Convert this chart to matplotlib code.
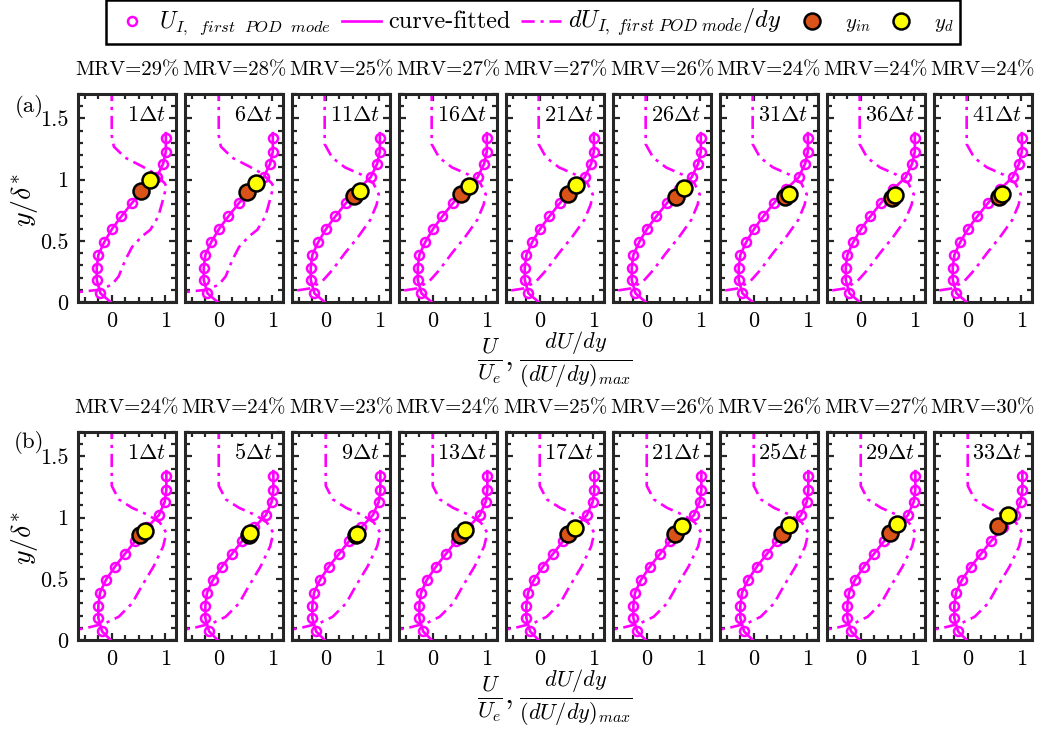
import numpy as np
import matplotlib
matplotlib.use('Agg')
from matplotlib import pyplot as plt
from matplotlib.lines import Line2D
from matplotlib.ticker import MultipleLocator

plt.rcParams['font.family'] = 'serif'
plt.rcParams['font.serif'] = ['cmr10', 'DejaVu Serif']
plt.rcParams['mathtext.fontset'] = 'cm'
plt.rcParams['axes.formatter.use_mathtext'] = True

# time steps and MRV per panel
steps_a = [1, 6, 11, 16, 21, 26, 31, 36, 41]
steps_b = [1, 5, 9, 13, 17, 21, 25, 29, 33]
mrv_a = [29, 28, 25, 27, 27, 26, 24, 24, 24]
mrv_b = [24, 24, 23, 24, 25, 26, 26, 27, 30]

# first POD mode velocity profile (U/Ue vs y/delta*)
U_y = [0.07, 0.18, 0.28, 0.385, 0.49, 0.60, 0.70, 0.81, 0.92, 1.02, 1.13, 1.23, 1.34]
U_a = [-0.21, -0.28, -0.28, -0.25, -0.14, 0.01, 0.18, 0.38, 0.60, 0.84, 0.96, 1.01, 1.01]
U_b = [-0.18, -0.25, -0.25, -0.22, -0.11, 0.06, 0.24, 0.44, 0.66, 0.88, 0.99, 1.02, 1.02]

# curve-fitted profile
fit_y = [0.0, 0.07, 0.18, 0.28, 0.385, 0.49, 0.60, 0.70, 0.81, 0.92, 1.02, 1.13, 1.23, 1.34, 1.38]
fit_a = [-0.02, -0.21, -0.28, -0.28, -0.25, -0.14, 0.01, 0.18, 0.38, 0.60, 0.84, 0.96, 1.01, 1.01, 1.01]
fit_b = [-0.02, -0.18, -0.25, -0.25, -0.22, -0.11, 0.06, 0.24, 0.44, 0.66, 0.88, 0.99, 1.02, 1.02, 1.02]

# normalised gradient dU/dy
dU_wavy_x = [0.0, 0.0, 0.04, 0.25, 0.56, 0.81, 0.99, 1.02, 0.96, 0.87, 0.72, 0.56, 0.38, 0.25, 0.13, 0.0, -0.24, -0.75]
dU_wavy_y = [1.75, 1.36, 1.27, 1.18, 1.11, 1.05, 0.97, 0.945, 0.84, 0.70, 0.59, 0.535, 0.45, 0.34, 0.21, 0.14, 0.10, 0.075]
dU_a_x = [-0.02, -0.02, 0.12, 0.36, 0.67, 0.89, 0.99, 0.95, 0.83, 0.61, 0.36, 0.12, -0.07, -0.31, -0.75]
dU_a_y = [1.75, 1.29, 1.18, 1.10, 1.04, 0.97, 0.88, 0.795, 0.67, 0.535, 0.40, 0.26, 0.167, 0.11, 0.08]
dU_b_x = [0.0, 0.0, 0.13, 0.38, 0.69, 0.90, 1.02, 0.96, 0.78, 0.56, 0.38, 0.13, -0.12, -0.49, -0.75]
dU_b_y = [1.75, 1.26, 1.15, 1.08, 1.02, 0.96, 0.875, 0.765, 0.60, 0.44, 0.30, 0.19, 0.137, 0.096, 0.08]

# y_in and y_d markers
yin_a_x = [0.55, 0.52, 0.53, 0.53, 0.52, 0.54, 0.585, 0.585, 0.58]
yin_a_y = [0.91, 0.90, 0.87, 0.885, 0.88, 0.86, 0.855, 0.85, 0.855]
yd_a_x = [0.72, 0.70, 0.64, 0.68, 0.68, 0.69, 0.65, 0.635, 0.64]
yd_a_y = [1.0, 0.97, 0.905, 0.95, 0.96, 0.93, 0.88, 0.877, 0.88]
yin_b_x = [0.53, 0.56, 0.57, 0.51, 0.52, 0.53, 0.53, 0.54, 0.56]
yin_b_y = [0.86, 0.86, 0.86, 0.86, 0.866, 0.866, 0.866, 0.875, 0.93]
yd_b_x = [0.62, 0.59, 0.58, 0.60, 0.65, 0.66, 0.66, 0.68, 0.75]
yd_b_y = [0.89, 0.875, 0.865, 0.90, 0.917, 0.93, 0.937, 0.946, 1.025]

MAG = '#FF00FF'
ORANGE = '#D95319'
YELLOW = '#FFFF00'
AXC = '#262626'
DASHDOT = (5, 2.2, 1.2, 2.2)

W, H = 1045, 731
fig = plt.figure(figsize=(W / 100, H / 100), dpi=100)


def draw_row(top_px, steps, mrv, U, fit, dUs, yin_x, yin_y, yd_x, yd_y):
	for i in range(9):
		left = 78 + 107 * i
		ax = fig.add_axes([left / W, 1 - (top_px + 208) / H, 98 / W, 208 / H])
		dx, dy = dUs[i]
		ax.plot(dx, dy, color=MAG, ls='-.', dashes=DASHDOT, lw=1.9, zorder=2)
		ax.plot(fit, fit_y, color=MAG, lw=1.9, zorder=3)
		ax.plot(U, U_y, ls='none', marker='o', mfc='none', mec=MAG, ms=6.5, mew=1.8, zorder=3)
		ax.plot(yin_x[i], yin_y[i], 'o', mfc=ORANGE, mec='k', ms=11.5, mew=1.8, zorder=5)
		ax.plot(yd_x[i], yd_y[i], 'o', mfc=YELLOW, mec='k', ms=11.5, mew=1.8, zorder=6)
		ax.set_xlim(-0.63, 1.2)
		ax.set_ylim(0, 1.7)
		ax.set_xticks([0, 1])
		ax.set_xticklabels(['0', '1'])
		ax.xaxis.set_minor_locator(MultipleLocator(0.25))
		ax.set_yticks([0, 0.5, 1, 1.5])
		ax.yaxis.set_minor_locator(MultipleLocator(0.1))
		ax.tick_params(which='both', direction='in', top=True, right=True, color=AXC,
					   labelsize=16, width=1.6)
		ax.tick_params(which='major', length=5, pad=7)
		ax.tick_params(which='minor', length=3.5)
		if i == 0:
			ax.set_yticklabels(['0', '0.5', '1', '1.5'])
		else:
			ax.set_yticklabels([])
		for s in ax.spines.values():
			s.set_linewidth(2.2)
			s.set_color(AXC)
		ax.text(0.5, 1.115, 'MRV=%d%%' % mrv[i], transform=ax.transAxes,
				ha='center', va='center', fontsize=15)
		ax.text(0.9, 0.9, r'$%d\Delta t$' % steps[i], transform=ax.transAxes,
				ha='right', va='center', fontsize=16)


draw_row(94, steps_a, mrv_a, U_a, fit_a,
		 [(dU_wavy_x, dU_wavy_y)] * 2 + [(dU_a_x, dU_a_y)] * 7,
		 yin_a_x, yin_a_y, yd_a_x, yd_a_y)
draw_row(432, steps_b, mrv_b, U_b, fit_b,
		 [(dU_b_x, dU_b_y)] * 9,
		 yin_b_x, yin_b_y, yd_b_x, yd_b_y)

# panel letters and axis labels
fig.text(29 / W, 1 - 107 / H, '(a)', ha='center', va='center', fontsize=16.5)
fig.text(29 / W, 1 - 443 / H, '(b)', ha='center', va='center', fontsize=16.5)
for yc in [200, 538]:
	fig.text(25 / W, 1 - yc / H, r'$y/\delta^{*}$', rotation=90, ha='center', va='center', fontsize=20)
for yc in [360, 698]:
	fig.text(555 / W, 1 - yc / H, r'$\frac{U}{U_e},\frac{dU/dy}{(dU/dy)_{max}}$',
			 ha='center', va='center', fontsize=23)

# legend
handles = [
	Line2D([], [], ls='none', marker='o', mfc='none', mec=MAG, ms=6.5, mew=1.8),
	Line2D([], [], color=MAG, lw=1.9),
	Line2D([], [], color=MAG, lw=1.9, ls='-.', dashes=DASHDOT),
	Line2D([], [], ls='none', marker='o', mfc=ORANGE, mec='k', ms=11.5, mew=1.8),
	Line2D([], [], ls='none', marker='o', mfc=YELLOW, mec='k', ms=11.5, mew=1.8),
]
labels = [r'$U_{I,\ \ first\ \ POD\ \ mode}$', 'curve-fitted', r'$dU_{I,\ first\ POD\ mode}/dy$',
		  r'$\ y_{in}$', r'$\ y_d$']
label_sizes = [17, 17.5, 17.5, 15, 15]
leg = fig.legend(handles, labels, loc='center', bbox_to_anchor=(533 / W, 1 - 22 / H),
				 ncol=5, fontsize=14, frameon=True, fancybox=False, framealpha=1,
				 edgecolor='k', handlelength=2.05, columnspacing=0.55, handletextpad=0.35,
				 borderpad=0.3)
leg.get_frame().set_linewidth(1.8)
for t, s in zip(leg.get_texts(), label_sizes):
	t.set_fontsize(s)

plt.savefig('out.png', dpi=100)
